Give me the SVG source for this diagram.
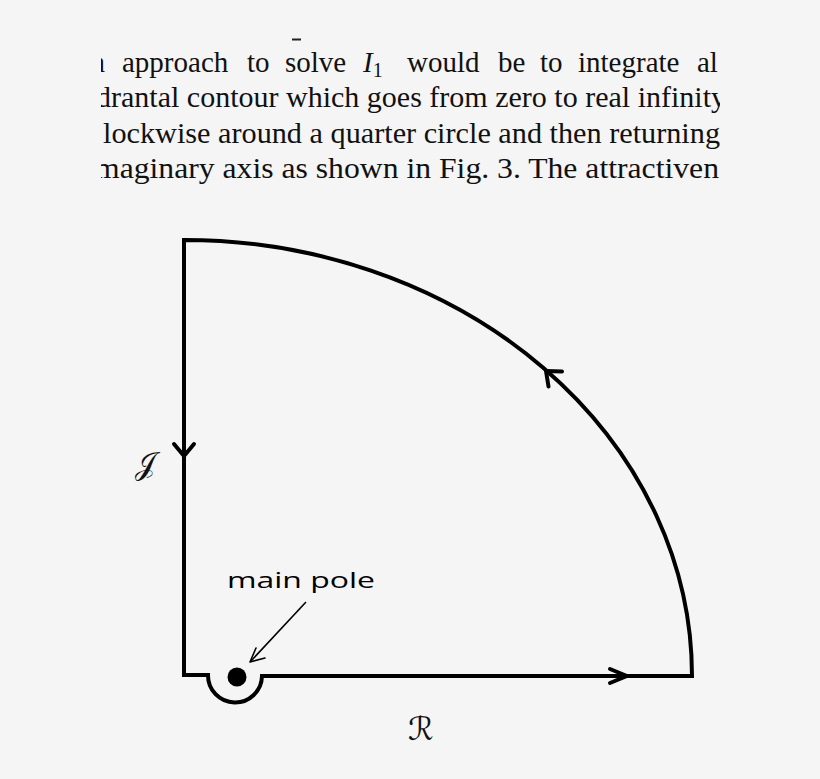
<svg xmlns="http://www.w3.org/2000/svg" width="820" height="779" viewBox="0 0 820 779">
<style>
.txt{font-family:"Liberation Serif","Times New Roman",serif;font-size:29px;fill:#111}
.contour{fill:none;stroke:#000;stroke-width:4;stroke-linejoin:miter}
.head{fill:none;stroke:#000;stroke-width:4;stroke-linecap:round;stroke-linejoin:round}
.lbl{font-family:"Open Sans","DejaVu Sans",sans-serif;font-size:22px;fill:#000}
.scr{font-family:"DejaVu Serif","DejaVu Sans","Liberation Serif",serif;fill:#111}
</style>
<defs>
<clipPath id="clipText"><rect x="101" y="0" width="619" height="200"/></clipPath>
</defs>
<rect width="820" height="779" fill="#f5f5f5"/>
<g id="paragraph" clip-path="url(#clipText)">
<rect x="292" y="38.5" width="9" height="2" fill="#222"/>
<text class="txt" x="105" y="72" text-anchor="end">n</text>
<text class="txt" x="122" y="72">approach</text>
<text class="txt" x="247" y="72">to</text>
<text class="txt" x="285" y="72">solve</text>
<text class="txt" x="363" y="72"><tspan font-style="italic">I</tspan><tspan font-size="20" dy="5">1</tspan></text>
<text class="txt" x="407" y="72">would</text>
<text class="txt" x="498" y="72">be</text>
<text class="txt" x="540" y="72">to</text>
<text class="txt" x="578" y="72">integrate</text>
<text class="txt" x="697" y="72">al</text>
<text class="txt" x="96" y="107" textLength="630" lengthAdjust="spacingAndGlyphs">drantal contour which goes from zero to real infinity</text>
<text class="txt" x="103" y="143" textLength="617" lengthAdjust="spacingAndGlyphs">lockwise around a quarter circle and then returning</text>
<text class="txt" x="95" y="178" textLength="624" lengthAdjust="spacingAndGlyphs">maginary axis as shown in Fig. 3. The attractiven</text>
</g>
<g id="connectors">
<path id="contour" class="contour" d="M184,675 L184,240 A508,436 0 0 1 692,676 L262,676 A27,27 0 0 1 208,675 L184,675 Z"/>
<path class="head" d="M174,444 L184,456 L194,444"/>
<path class="head" d="M610,669 L627,676 L610,683"/>
<path class="head" d="M548.5,386.5 L546,371 L562,371.5"/>
<line x1="306" y1="602" x2="251" y2="661" stroke="#000" stroke-width="1.6"/>
<path d="M265,658 L250,662 L256,648" fill="none" stroke="#000" stroke-width="1.6" stroke-linecap="round" stroke-linejoin="round"/>
</g>
<g id="pole"><circle cx="237" cy="677" r="9.5" fill="#000"/></g>
<g id="label-main-pole"><text class="lbl" x="227" y="588" textLength="148" lengthAdjust="spacingAndGlyphs">main pole</text></g>
<g id="label-J"><text class="scr" x="135" y="474" font-size="30">𝒥</text></g>
<g id="label-R"><text class="scr" x="408" y="740" font-size="32">ℛ</text></g>
</svg>
